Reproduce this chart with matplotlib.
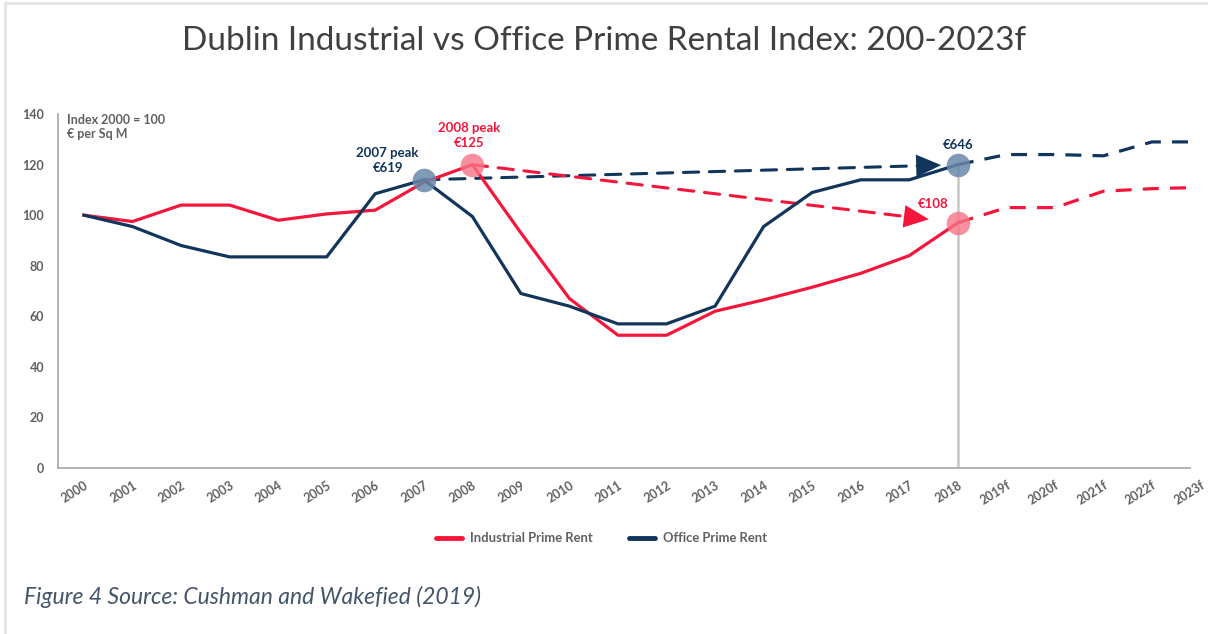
import numpy as np
import matplotlib.pyplot as plt
from matplotlib.patches import Rectangle

# data (index 2000 = 100)
years = ['2000', '2001', '2002', '2003', '2004', '2005', '2006', '2007', '2008',
         '2009', '2010', '2011', '2012', '2013', '2014', '2015', '2016', '2017',
         '2018', '2019f', '2020f', '2021f', '2022f', '2023f']
industrial = [100, 97.5, 104, 104, 98, 100.5, 102, 113, 120, 93, 67, 52.5, 52.5,
              62, 66.5, 71.5, 77, 84, 97]
industrial_f = [97, 103, 103, 109.5, 110.5, 111]
office = [100, 95.5, 88, 83.5, 83.5, 83.5, 108.5, 114, 99.5, 69, 64, 57, 57,
          64, 95.5, 109, 114, 114, 120]
office_f = [120, 124, 124, 123.5, 129, 129]

RED = '#f5163c'
NAVY = '#12355b'
GREY = '#5f6064'

plt.rcParams['font.family'] = ['Lato', 'DejaVu Sans']

fig = plt.figure(figsize=(12.08, 6.34), dpi=100)
fig.patches.append(Rectangle((0.004, -0.01), 1.2, 1.005, transform=fig.transFigure,
                             fill=False, edgecolor='#e3e3e3', linewidth=2))

ax = fig.add_axes([0.048, 0.262, 0.937, 0.558])

x = np.arange(len(years))
hist = x[:len(industrial)]
fc = x[len(industrial) - 1:]

# vertical marker at 2018
ax.plot([hist[-1], hist[-1]], [0, office[-1]], color='#c8c8c8', lw=1.8, zorder=1)

ax.plot(hist, industrial, color=RED, lw=2.3, solid_joinstyle='round', zorder=3)
ax.plot(hist, office, color=NAVY, lw=2.3, solid_joinstyle='round', zorder=3)
ax.plot(fc, industrial_f, color=RED, lw=2.3, ls=(0, (5, 3.5)), zorder=3)
ax.plot(fc, office_f, color=NAVY, lw=2.3, ls=(0, (5, 3.5)), zorder=3)


# peak to 2018 arrows: dashed shaft + solid head
def peak_arrow(start, end, color, gap):
    ax.annotate('', xy=end, xytext=start,
                arrowprops=dict(arrowstyle='-', color=color, lw=2.2, ls=(0, (5, 3.5)),
                                shrinkA=0, shrinkB=gap + 14), zorder=2)
    ax.annotate('', xy=end, xytext=start,
                arrowprops=dict(arrowstyle='-|>,head_length=0.6,head_width=0.27',
                                color=color, lw=0, mutation_scale=30,
                                shrinkA=0, shrinkB=gap), zorder=2)


peak_arrow((7, office[7]), (hist[-1], office[-1]), NAVY, 12)
peak_arrow((8, industrial[8]), (hist[-1], industrial[-1]), RED, 21)

# highlight circles
ax.plot([7, hist[-1]], [office[7], office[-1]], 'o', ms=17, color='#6a88a8',
        alpha=0.85, mec='none', zorder=4)
ax.plot([8, hist[-1]], [industrial[8], industrial[-1]], 'o', ms=17, color='#f87588',
        alpha=0.8, mec='none', zorder=4)

lab = dict(ha='center', va='bottom', fontsize=9.5, fontweight='bold')
ax.annotate('2007 peak\n€619', (7, office[7]), xytext=(-26, 4), textcoords='offset points',
            color=NAVY, linespacing=1.3, **lab)
ax.annotate('2008 peak\n€125', (8, industrial[8]), xytext=(-2, 11), textcoords='offset points',
            color=RED, linespacing=1.3, **lab)
ax.annotate('€646', (hist[-1], office[-1]), xytext=(0, 10), textcoords='offset points',
            color=NAVY, **lab)
ax.annotate('€108', (hist[-1], industrial[-1]), xytext=(-18, 9), textcoords='offset points',
            color=RED, **lab)

ax.text(0.008, 1.0, 'Index 2000 = 100\n€ per Sq M', transform=ax.transAxes, ha='left',
        va='top', fontsize=9, fontweight='bold', color=GREY, linespacing=1.2)

ax.set_xlim(-0.535, 22.78)
ax.set_ylim(0, 140)
ax.set_yticks(range(0, 141, 20))
ax.set_xticks(x[:23])
ax.set_xticklabels(years[:23], rotation=32, ha='right', rotation_mode='anchor')
ax.text(x[23], -0.03, years[23], transform=ax.get_xaxis_transform(), rotation=32,
        ha='right', va='top', rotation_mode='anchor', fontsize=9, color=GREY,
        fontweight='bold', clip_on=False)
ax.tick_params(axis='both', length=0, labelsize=9, labelcolor=GREY)
ax.tick_params(axis='y', pad=10)
ax.tick_params(axis='x', pad=8)
for t in ax.get_xticklabels() + ax.get_yticklabels():
    t.set_fontweight('bold')
for s in ['top', 'right']:
    ax.spines[s].set_visible(False)
for s in ['left', 'bottom']:
    ax.spines[s].set_color('#a8a8a8')
    ax.spines[s].set_linewidth(1.2)

# legend
h1, = ax.plot([], [], color=RED, lw=3.5, solid_capstyle='round')
h2, = ax.plot([], [], color=NAVY, lw=3.5, solid_capstyle='round')
leg = fig.legend([h1, h2], ['Industrial Prime Rent', 'Office Prime Rent'], loc='center',
                 bbox_to_anchor=(0.498, 0.151), ncol=2, frameon=False, handlelength=2.0,
                 handletextpad=0.6, columnspacing=2.8, prop=dict(size=9.4, weight='bold'))
for t in leg.get_texts():
    t.set_color(GREY)

fig.text(0.5, 0.935, 'Dublin Industrial vs Office Prime Rental Index: 200-2023f',
         ha='center', va='center', fontsize=24, color='#404040')
fig.text(0.02, 0.058, 'Figure 4 Source: Cushman and Wakefied (2019)', ha='left',
         va='center', fontsize=16.5, style='italic', color='#44546a')

fig.savefig('out.png', dpi=100)
